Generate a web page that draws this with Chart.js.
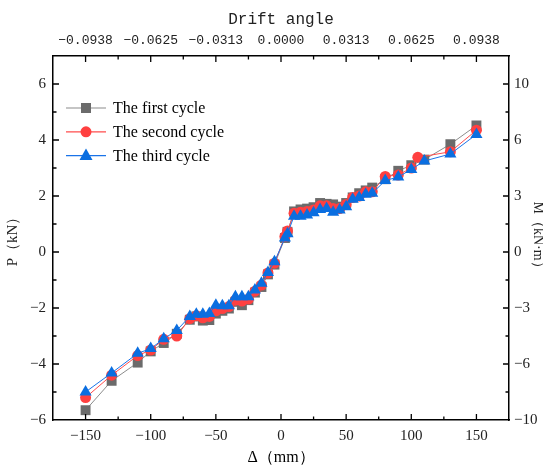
<!DOCTYPE html>
<html>
<head>
    <meta charset="utf-8">
    <title>Skeleton curves</title>
    <script src="https://cdn.jsdelivr.net/npm/chart.js@4.4.0/dist/chart.umd.min.js"></script>
    <style>
        body { margin: 0; background: #fff; }
        canvas { display: block; }
    </style>
</head>
<body>

<canvas id="myChart" width="543" height="468"></canvas>

<script>
    // displacement (mm) of each load step
    const dispFirst  = [-150,-130,-110,-100,-90,-80,-70,-65,-60,-55,-50,-45,-40,-35,-30,-25,-20,-15,-10,-5,3,5,10,15,20,25,30,35,40,45,50,55,60,65,70,80,90,100,110,130,150];
    const dispSecond = [-150,-130,-110,-100,-90,-80,-70,-65,-60,-55,-50,-45,-40,-35,-30,-25,-20,-15,-10,-5,3,5,10,15,20,25,30,35,40,45,50,55,60,65,70,80,90,100,105,130,150];
    const dispThird  = [-150,-130,-110,-100,-90,-80,-70,-65,-60,-55,-50,-45,-40,-35,-30,-25,-20,-15,-10,-5,3,5,10,15,20,25,30,35,40,45,50,55,60,65,70,80,90,100,110,130,150];

    // load P (kN)
    const loadFirst  = [-5.65,-4.6,-3.95,-3.55,-3.25,-2.92,-2.42,-2.3,-2.45,-2.43,-2.2,-2.1,-2.02,-1.78,-1.9,-1.72,-1.45,-1.25,-0.8,-0.45,0.5,0.72,1.45,1.52,1.55,1.6,1.75,1.72,1.7,1.62,1.75,1.95,2.1,2.2,2.3,2.6,2.9,3.1,3.3,3.85,4.52];
    const loadSecond = [-5.2,-4.4,-3.7,-3.5,-3.12,-3.0,-2.38,-2.28,-2.35,-2.3,-2.1,-2.02,-1.95,-1.72,-1.75,-1.68,-1.4,-1.18,-0.75,-0.4,0.55,0.75,1.38,1.42,1.45,1.5,1.65,1.65,1.55,1.55,1.7,1.95,2.0,2.15,2.15,2.7,2.75,3.0,3.38,3.58,4.35];
    const loadThird  = [-5.0,-4.32,-3.62,-3.45,-3.1,-2.8,-2.3,-2.22,-2.22,-2.2,-1.9,-1.92,-1.92,-1.6,-1.6,-1.6,-1.36,-1.12,-0.73,-0.35,0.5,0.65,1.28,1.28,1.32,1.4,1.52,1.55,1.42,1.5,1.62,1.88,1.95,2.06,2.1,2.55,2.68,2.95,3.25,3.5,4.2];

    // axis ticks and labels
    const dispTicks = [-150,-100,-50,0,50,100,150];
    const driftLabels = ['\u22120.0938','\u22120.0625','\u22120.0313','0.0000','0.0313','0.0625','0.0938'];
    const loadTicks = [-6,-4,-2,0,2,4,6];
    const momentLabels = ['\u221210','\u22126','\u22123','0','3','6','10'];

    const serif = "'Liberation Serif', 'Times New Roman', serif";
    const mono = "'Liberation Mono', 'Courier New', monospace";

    function minus(v) {
        return v < 0 ? '\u2212' + Math.abs(v) : String(v);
    }

    function pts(xs, ys) {
        return xs.map((x, i) => ({x: x, y: ys[i]}));
    }

    // ticks on all four sides point into the plot
    const innerTicks = {
        id: 'innerTicks',
        afterDraw(chart) {
            const ctx = chart.ctx;
            const a = chart.chartArea;
            const sx = chart.scales.x, sy = chart.scales.y;
            ctx.save();
            ctx.strokeStyle = '#000';
            ctx.lineWidth = 1.3;
            ctx.beginPath();
            for (let v = -175; v <= 175; v += 25) {
                const len = (v % 50 === 0) ? 6 : 3.5;
                const px = sx.getPixelForValue(v);
                if (px <= a.left + 1 || px >= a.right - 1) continue;
                ctx.moveTo(px, a.bottom); ctx.lineTo(px, a.bottom - len);
                ctx.moveTo(px, a.top); ctx.lineTo(px, a.top + len);
            }
            for (let v = -6; v <= 7; v += 1) {
                const len = (v % 2 === 0) ? 6 : 3.5;
                const py = sy.getPixelForValue(v);
                if (py <= a.top + 1 || py >= a.bottom - 1) continue;
                ctx.moveTo(a.left, py); ctx.lineTo(a.left + len, py);
                ctx.moveTo(a.right, py); ctx.lineTo(a.right - len, py);
            }
            ctx.stroke();
            ctx.restore();
        }
    };

    // legend box inside the upper-left corner
    const insideLegend = {
        id: 'insideLegend',
        afterDatasetsDraw(chart) {
            const ctx = chart.ctx;
            const a = chart.chartArea;
            const x0 = a.left + 13, y0 = a.top + 52, rowH = 23.8;
            ctx.save();
            chart.data.datasets.forEach((ds, i) => {
                const y = y0 + i * rowH;
                const cx = x0 + 20;
                ctx.strokeStyle = ds.borderColor;
                ctx.lineWidth = 1.2;
                ctx.beginPath();
                ctx.moveTo(x0, y); ctx.lineTo(x0 + 40, y);
                ctx.stroke();
                ctx.fillStyle = ds.pointBackgroundColor;
                ctx.beginPath();
                if (ds.pointStyle === 'rect') {
                    ctx.rect(cx - 5, y - 5, 10, 10);
                } else if (ds.pointStyle === 'circle') {
                    ctx.arc(cx, y, 5.5, 0, Math.PI * 2);
                } else {
                    ctx.moveTo(cx, y - 7);
                    ctx.lineTo(cx + 6.5, y + 4.5);
                    ctx.lineTo(cx - 6.5, y + 4.5);
                    ctx.closePath();
                }
                ctx.fill();
                ctx.fillStyle = '#000';
                ctx.font = '16px ' + serif;
                ctx.textBaseline = 'middle';
                ctx.fillText(ds.label, x0 + 47, y + 1);
            });
            ctx.restore();
        }
    };

    const tickFont = {family: serif, size: 15};
    const noGrid = {display: false, drawTicks: false};

    var ctx = document.getElementById('myChart').getContext('2d');
    var myChart = new Chart(ctx, {
        type: 'line',
        data: {
            datasets: [{
                label: 'The first cycle',
                data: pts(dispFirst, loadFirst),
                borderColor: '#8c8c8c',
                pointBackgroundColor: '#6b6b6b',
                pointBorderWidth: 0,
                pointStyle: 'rect',
                pointRadius: 7,
                borderWidth: 1,
                order: 3
            }, {
                label: 'The second cycle',
                data: pts(dispSecond, loadSecond),
                borderColor: '#ff4d4d',
                pointBackgroundColor: '#ff4040',
                pointBorderWidth: 0,
                pointStyle: 'circle',
                pointRadius: 5.5,
                borderWidth: 1,
                order: 2
            }, {
                label: 'The third cycle',
                data: pts(dispThird, loadThird),
                borderColor: '#1a73e8',
                pointBackgroundColor: '#0a6ee0',
                pointBorderWidth: 0,
                pointStyle: 'triangle',
                pointRadius: 7,
                borderWidth: 1,
                order: 1
            }]
        },
        options: {
            responsive: false,
            animation: false,
            devicePixelRatio: 1,
            layout: {padding: 0},
            plugins: {
                legend: {display: false},
                tooltip: {enabled: false}
            },
            scales: {
                x: {
                    type: 'linear',
                    position: 'bottom',
                    min: -175,
                    max: 175,
                    afterBuildTicks: s => { s.ticks = dispTicks.map(v => ({value: v})); },
                    afterFit: s => { s.height = 48; },
                    ticks: {callback: v => minus(v), font: tickFont, color: '#222', padding: 7, maxRotation: 0, autoSkip: false},
                    grid: noGrid,
                    border: {display: true, color: '#000', width: 1.5},
                    title: {display: true, text: 'Δ（mm）', font: {family: serif, size: 16}, color: '#000', padding: {top: 0, bottom: 1}}
                },
                x2: {
                    type: 'linear',
                    position: 'top',
                    min: -175,
                    max: 175,
                    afterBuildTicks: s => { s.ticks = dispTicks.map(v => ({value: v})); },
                    afterFit: s => { s.height = 56; },
                    ticks: {callback: (v, i) => driftLabels[i], font: {family: mono, size: 13}, color: '#222', padding: 8, maxRotation: 0, autoSkip: false},
                    grid: noGrid,
                    border: {display: true, color: '#000', width: 1.5},
                    title: {display: true, text: 'Drift angle', font: {family: mono, size: 16}, color: '#222', padding: {top: 10, bottom: 0}}
                },
                y: {
                    type: 'linear',
                    position: 'left',
                    min: -6,
                    max: 7,
                    afterBuildTicks: s => { s.ticks = loadTicks.map(v => ({value: v})); },
                    afterFit: s => { s.width = 53; },
                    ticks: {callback: v => minus(v), font: tickFont, color: '#222', padding: 7},
                    grid: noGrid,
                    border: {display: true, color: '#000', width: 1.5},
                    title: {display: true, text: 'P（kN）', font: {family: serif, size: 15}, color: '#222', padding: {top: 4, bottom: 0}}
                },
                y2: {
                    type: 'linear',
                    position: 'right',
                    min: -6,
                    max: 7,
                    afterBuildTicks: s => { s.ticks = loadTicks.map(v => ({value: v})); },
                    afterFit: s => { s.width = 34; },
                    ticks: {callback: (v, i) => momentLabels[i], font: tickFont, color: '#222', padding: 5},
                    grid: noGrid,
                    border: {display: true, color: '#000', width: 1.5},
                    title: {display: true, text: 'M（kN·m）', font: {family: serif, size: 14}, color: '#222', padding: {top: -3, bottom: 0}}
                }
            }
        },
        plugins: [innerTicks, insideLegend]
    });
</script>

</body>
</html>
